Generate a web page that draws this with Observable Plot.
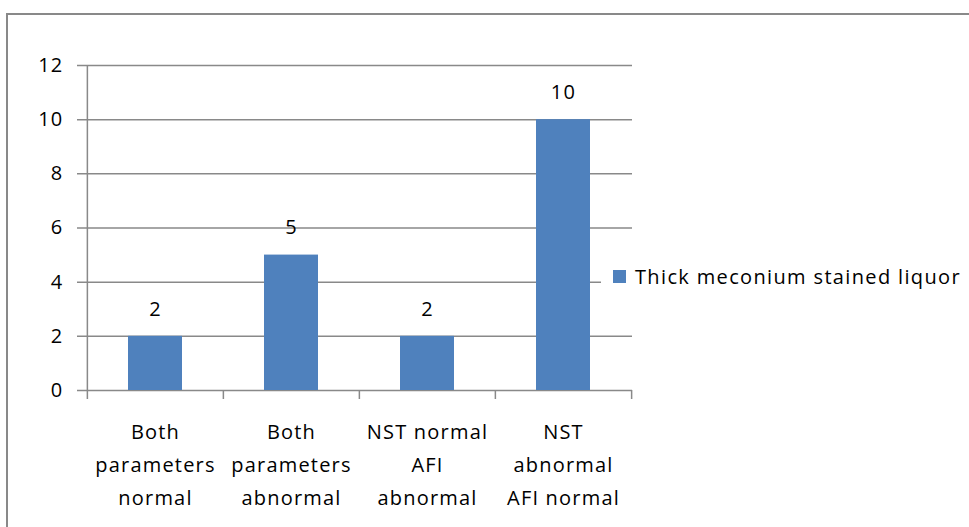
<!DOCTYPE html>
<html>
<head>
<meta charset="utf-8">
<script src="https://cdn.jsdelivr.net/npm/d3@7"></script>
<script src="https://cdn.jsdelivr.net/npm/@observablehq/plot@0.6"></script>
<style>
  html, body { margin: 0; padding: 0; background: #fff; }
  #chart { position: relative; width: 969px; height: 527px; overflow: hidden; background: #fff; }
  #chart svg { position: absolute; left: 0; top: 0; }
  .outline { position: absolute; left: 6px; top: 13px; width: 1100px; height: 700px;
             border: 2px solid #898989; pointer-events: none; }
  .legend { position: absolute; left: 601px; top: 262px; padding: 1px 20px 1px 12px; white-space: nowrap;
            font: 20px "Open Sans", sans-serif; letter-spacing: 1.35px; color: #000;
            display: flex; align-items: center; height: 26px; background: #fff; }
  .legend .swatch { width: 13px; height: 13px; background: #4F81BD; margin-right: 9px; }
</style>
</head>
<body>
<div id="chart">
  <div class="outline"></div>
</div>
<script>
// Cases with thick meconium stained liquor, by NST / AFI result
const categories = [
  "Both parameters normal",
  "Both parameters abnormal",
  "NST normal AFI abnormal",
  "NST abnormal AFI normal"
];
const values = [2, 5, 2, 10];
const tickLabels = [
  "Both\nparameters\nnormal",
  "Both\nparameters\nabnormal",
  "NST normal\nAFI\nabnormal",
  "NST\nabnormal\nAFI normal"
];
const yTicks = [0, 2, 4, 6, 8, 10, 12];
const seriesName = "Thick meconium stained liquor";

const rows = categories.map((c, i) => ({ category: c, value: values[i], label: tickLabels[i] }));

const W = 969, H = 527;
const margin = { left: 87, right: 337, top: 65, bottom: 137 };
const step = (W - margin.left - margin.right) / categories.length;
const gridColor = "#898989";

const chart = Plot.plot({
  width: W,
  height: H,
  marginLeft: margin.left,
  marginRight: margin.right,
  marginTop: margin.top,
  marginBottom: margin.bottom,
  style: {
    fontFamily: "'Open Sans', sans-serif",
    fontSize: "20px",
    letterSpacing: "1.2px",
    color: "#000",
    background: "transparent",
    overflow: "visible"
  },
  x: { domain: categories, paddingInner: 0.6, paddingOuter: 0.3, axis: null },
  y: { domain: [0, 12], axis: null },
  marks: [
    // horizontal gridlines with short ticks to the left of the axis
    Plot.ruleY(yTicks, { stroke: gridColor, strokeWidth: 1.5, insetLeft: -10 }),
    // bars
    Plot.barY(rows, { x: "category", y: "value", fill: "#4F81BD" }),
    // vertical axis line, running down into the first category divider tick
    Plot.ruleX(rows.slice(0, 1), { x: "category", dx: -step / 2, stroke: gridColor, strokeWidth: 1.5, insetBottom: -9 }),
    // category divider ticks below the baseline
    Plot.ruleX(rows.slice(1), { x: "category", y1: 0, y2: 0, dx: -step / 2, stroke: gridColor, strokeWidth: 1.5, insetBottom: -9 }),
    Plot.ruleX(rows.slice(-1), { x: "category", y1: 0, y2: 0, dx: step / 2, stroke: gridColor, strokeWidth: 1.5, insetBottom: -9 }),
    // y tick labels
    Plot.axisY(yTicks, { tickSize: 0, tickPadding: 24, label: null, fontSize: 20, fill: "#000" }),
    // value labels
    Plot.text(rows, { x: "category", y: "value", text: d => String(d.value), dy: -27, fontSize: 20, fill: "#000" }),
    // category labels
    Plot.text(rows, {
      x: "category", text: "label", frameAnchor: "bottom", lineAnchor: "top",
      dy: 25, lineHeight: 1.65, fontSize: 20, fill: "#000"
    })
  ]
});

const root = document.getElementById("chart");
root.insertBefore(chart, root.firstChild);

// legend box sits over the right edge of the plot area
const legend = document.createElement("div");
legend.className = "legend";
legend.innerHTML = '<span class="swatch"></span><span></span>';
legend.lastChild.textContent = seriesName;
root.appendChild(legend);
</script>
</body>
</html>
